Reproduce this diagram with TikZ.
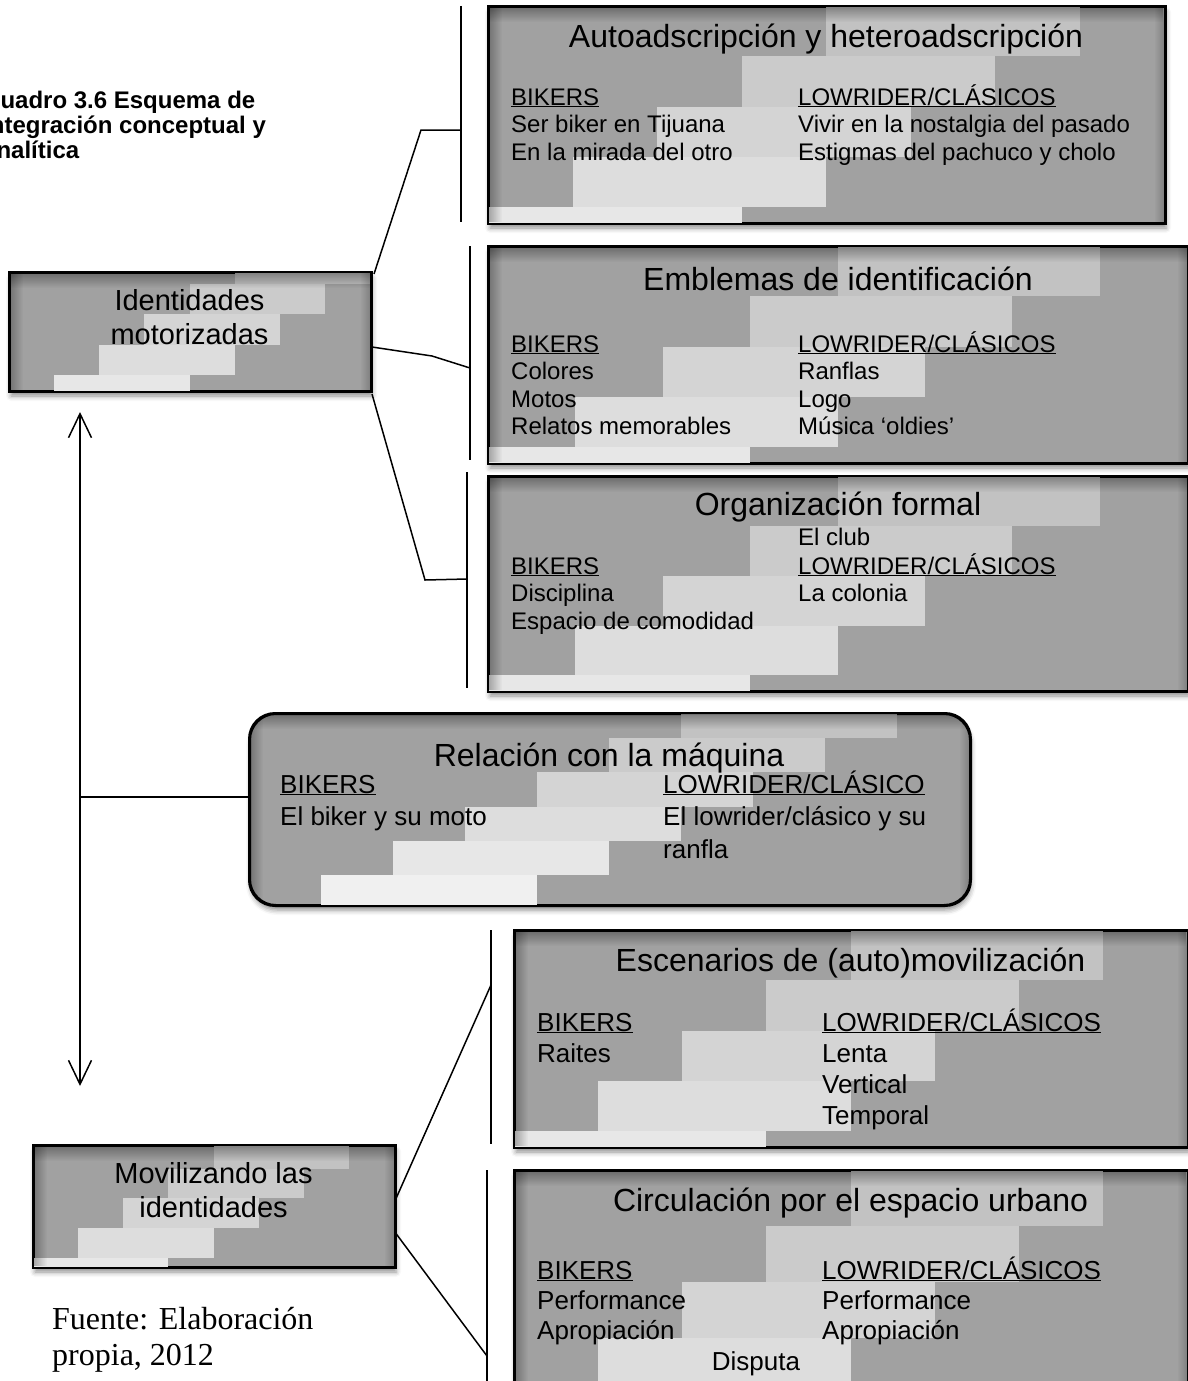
\documentclass[tikz,border=0pt]{standalone}
\usepackage{fontspec}
\setmainfont{Liberation Sans}
\newfontfamily\serifface{Liberation Serif}
\usetikzlibrary{arrows.meta,fadings,shadows.blur}

% staircase fill over a panel node:
% node, width, height, x of top step, step width, y of top step, band height, last index, corner radius
% (positions are fractions of the width and height, measured from the top left corner)
\newcommand\stairs[9]{%
  \begin{scope}
    \clip[rounded corners=#9] (#1.north west) rectangle (#1.south east);
    \begin{scope}[shift={(#1.north west)}]
      \foreach \k [evaluate=\k as \gv using 24-3.6*\k] in {0,...,#8}{
        \fill[black!\gv] ({#2*(#4-#5*\k)},{#3*(#6+#7*\k)}) rectangle ({#2*(#4-#5*\k+3*#5)},{#3*(#6+#7*(\k+1))});
      }
      \fill[black,opacity=.35,path fading=south] (0,0) rectangle (#2,16);
      \fill[black,opacity=.3,path fading=east] (0,0) rectangle (14,#3);
      \fill[black,opacity=.2,path fading=west] (#2-10,0) rectangle (#2,#3);
    \end{scope}
  \end{scope}
  \draw[line width=2pt, rounded corners=#9] (#1.north west) rectangle (#1.south east);}

\tikzset{
  panel/.style={fill=black!37, draw=black, line width=2pt, inner sep=0pt, anchor=north west,
    blur shadow={shadow xshift=1pt, shadow yshift=-5pt, shadow blur radius=5pt, shadow opacity=45}},
  ttl/.style={font=\fontsize{32}{36}\selectfont, inner sep=0pt, anchor=base},
  body/.style={font=\fontsize{24}{27.5}\selectfont, inner sep=0pt, anchor=base west, align=left},
  bodyl/.style={font=\fontsize{26}{31}\selectfont, inner sep=0pt, anchor=base west, align=left},
  side/.style={font=\fontsize{29}{34}\selectfont, inner sep=0pt, anchor=base, align=center},
  link/.style={line width=1.5pt},
}

\begin{document}
\begin{tikzpicture}[x=1pt,y=-1pt]
\useasboundingbox (0,0) rectangle (1187,1381);

% caption (multi-line nodes sit on the baseline of their last line)
\node[font=\bfseries\fontsize{24}{25}\selectfont, inner sep=0pt, anchor=base west, align=left] (cap) at (-17,158)
  {Cuadro 3.6 Esquema de\\integración conceptual y\\analítica};

% left boxes
\node[panel, minimum width=361, minimum height=118] (id) at (9,272) {};
\stairs{id}{361}{118}{0.625}{0.125}{-0.15}{0.255}{4}{0pt}
\node[side] (idt) at (189.5,344) {Identidades\\motorizadas};

\node[panel, minimum width=361, minimum height=121] (mov) at (33,1145) {};
\stairs{mov}{361}{121}{0.5}{0.125}{-0.05}{0.245}{4}{0pt}
\node[side] (movt) at (213.5,1217) {Movilizando las\\identidades};

% right boxes, upper group
\node[panel, minimum width=676, minimum height=216] (b1) at (488,6) {};
\stairs{b1}{676}{216}{0.5}{0.125}{0}{0.233}{4}{0pt}
\node[ttl] (b1t) at (826,48) {Autoadscripción y heteroadscripción};
\node[body] (b1l) at (511,160) {\underline{BIKERS}\\Ser biker en Tijuana\\En la mirada del otro};
\node[body] (b1r) at (798,160) {\underline{LOWRIDER/CLÁSICOS}\\Vivir en la nostalgia del pasado\\Estigmas del pachuco y cholo};

\node[panel, minimum width=699, minimum height=216] (b2) at (488,246) {};
\stairs{b2}{699}{216}{0.5}{0.125}{0}{0.233}{4}{0pt}
\node[ttl] (b2t) at (838,290) {Emblemas de identificación};
\node[body] (b2l) at (511,434.5) {\underline{BIKERS}\\Colores\\Motos\\Relatos memorables};
\node[body] (b2r) at (798,434.5) {\underline{LOWRIDER/CLÁSICOS}\\Ranflas\\Logo\\Música ‘oldies’};

\node[panel, minimum width=699, minimum height=214] (b3) at (488,476) {};
\stairs{b3}{699}{214}{0.5}{0.125}{0}{0.233}{4}{0pt}
\node[ttl] (b3t) at (838,515) {Organización formal};
\node[body] (b3c) at (798,545) {El club};
\node[body] (b3l) at (511,629) {\underline{BIKERS}\\Disciplina\\Espacio de comodidad};
\node[body] (b3r) at (798,601.5) {\underline{LOWRIDER/CLÁSICOS}\\La colonia};

% middle rounded box
\node[panel, rounded corners=26pt, minimum width=720, minimum height=191] (rel) at (249,713) {};
\stairs{rel}{720}{191}{0.6}{0.1}{-0.05}{0.18}{5}{26pt}
\node[ttl] (relt) at (609,766) {Relación con la máquina};
\node[bodyl, font=\fontsize{26}{32.5}\selectfont] (rell) at (280,825.5) {\underline{BIKERS}\\El biker y su moto};
\node[bodyl, font=\fontsize{26}{32.5}\selectfont] (relr) at (663,858) {\underline{LOWRIDER/CLÁSICO}\\El lowrider/clásico y su\\ranfla};

% right boxes, lower group
\node[panel, minimum width=673, minimum height=216] (b5) at (514,930) {};
\stairs{b5}{673}{216}{0.5}{0.125}{0}{0.233}{4}{0pt}
\node[ttl] (b5t) at (850.5,971) {Escenarios de (auto)movilización};
\node[bodyl] (b5l) at (537,1062) {\underline{BIKERS}\\Raites};
\node[bodyl] (b5r) at (822,1124) {\underline{LOWRIDER/CLÁSICOS}\\Lenta\\Vertical\\Temporal};

\node[panel, minimum width=673, minimum height=240] (b6) at (514,1170) {};
\stairs{b6}{673}{240}{0.5}{0.125}{0}{0.233}{4}{0pt}
\node[ttl] (b6t) at (850.5,1211) {Circulación por el espacio urbano};
\node[bodyl, font=\fontsize{26}{30}\selectfont] (b6l) at (537,1339) {\underline{BIKERS}\\Performance\\Apropiación};
\node[bodyl, font=\fontsize{26}{30}\selectfont] (b6r) at (822,1339) {\underline{LOWRIDER/CLÁSICOS}\\Performance\\Apropiación};
\node[bodyl, anchor=base] (b6d) at (756,1370) {Disputa};

% source note
\node[font=\serifface\fontsize{32}{36}\selectfont, inner sep=0pt, anchor=base west, align=left] (src) at (52,1365)
  {Fuente: Elaboración\\propia, 2012};

% bracket lines
\coordinate (v1t) at (461,6);   \coordinate (v1b) at (461,222);  \coordinate (v1m) at (461,130);
\coordinate (v2t) at (470,246); \coordinate (v2b) at (470,460);  \coordinate (v2m) at (470,368);
\coordinate (v3t) at (467,472); \coordinate (v3b) at (467,688);  \coordinate (v3m) at (467,579);
\coordinate (v4t) at (491,930); \coordinate (v4b) at (491,1144); \coordinate (v4m) at (491,985);
\coordinate (v5t) at (487,1170); \coordinate (v5b) at (487,1381); \coordinate (v5m) at (487,1356);
\foreach \v in {v1,v2,v3,v4,v5} \draw[link] (\v t) -- (\v b);

% connectors to the brackets
\coordinate (k1) at (421,130);
\coordinate (k2) at (432,356);
\coordinate (k3) at (425,580);
\draw[link] ([xshift=2pt,yshift=-2pt]id.north east) -- (k1) -- (v1m);
\draw[link] ([yshift=-15pt]id.east) -- (k2) -- (v2m);
\draw[link] ([yshift=-2pt]id.south east) -- (k3) -- (v3m);
\draw[link] ([yshift=8pt]mov.east) -- (v4m);
\draw[link] ([yshift=-27pt]mov.east) -- (v5m);

% two-way arrow and branch to the middle box
\coordinate (au) at (80,412);
\coordinate (ad) at (80,1086);
\coordinate (aj) at (80,797);
\draw[link, {Straight Barb[length=24pt,width=23pt]}-{Straight Barb[length=24pt,width=23pt]}] (au) -- (ad);
\draw[link] (aj) -- (rel.west |- aj);
\end{tikzpicture}
\end{document}
